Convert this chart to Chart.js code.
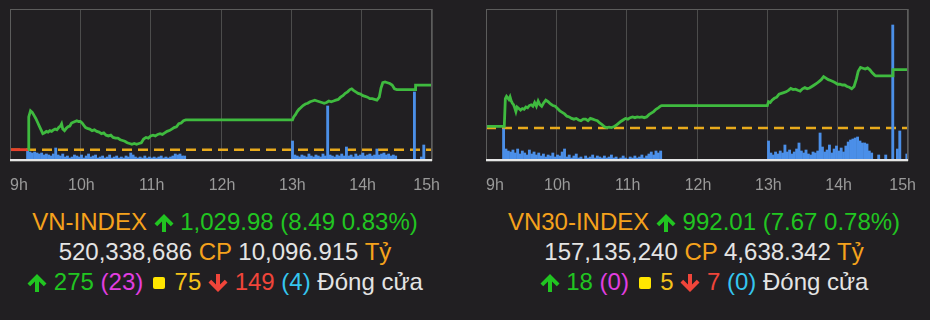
<!DOCTYPE html>
<html><head><meta charset="utf-8">
<script src="https://cdn.jsdelivr.net/npm/chart.js@4/dist/chart.umd.min.js"></script>
<style>
html,body{margin:0;padding:0;background:#211f22;width:930px;height:320px;overflow:hidden;}
canvas{position:absolute;top:0;}
.info{position:absolute;top:207px;width:450px;text-align:center;font-family:"Liberation Sans",Arial,sans-serif;font-size:24px;line-height:30px;color:#e4e4e4;white-space:nowrap;}
.o{color:#f5a21c}.g{color:#21c521}.m{color:#e23ee0}.y{color:#f6c21a}.r{color:#f0453a}.c{color:#35c6ef}
.sq{display:inline-block;width:12px;height:12px;background:#ffe500;border-radius:2px;vertical-align:1px;margin:0 3px;}
svg.ar{width:20px;height:18px;vertical-align:-2px;}
</style></head><body>
<canvas id="c1" width="465" height="200" style="left:0"></canvas>
<canvas id="c2" width="465" height="200" style="left:465px"></canvas>

<div class="info" style="left:0">
<div><span class="o">VN-INDEX</span> <svg class="ar" viewBox="0 0 20 18"><path d="M10 0 L19.5 9.5 L16.8 12.2 L12 7.4 L12 18 L8 18 L8 7.4 L3.2 12.2 L0.5 9.5 Z" fill="#21c521"/></svg> <span class="g">1,029.98 (8.49 0.83%)</span></div>
<div>520,338,686 <span class="o">CP</span> 10,096.915 <span class="o">Tỷ</span></div>
<div><svg class="ar" viewBox="0 0 20 18"><path d="M10 0 L19.5 9.5 L16.8 12.2 L12 7.4 L12 18 L8 18 L8 7.4 L3.2 12.2 L0.5 9.5 Z" fill="#21c521"/></svg> <span class="g">275</span> <span class="m">(23)</span> <span class="sq"></span> <span class="y">75</span> <svg class="ar" viewBox="0 0 20 18"><path d="M10 18 L19.5 8.5 L16.8 5.8 L12 10.6 L12 0 L8 0 L8 10.6 L3.2 5.8 L0.5 8.5 Z" fill="#f0453a"/></svg> <span class="r">149</span> <span class="c">(4)</span> Đóng cửa</div>
</div>

<div class="info" style="left:479px">
<div><span class="o">VN30-INDEX</span> <svg class="ar" viewBox="0 0 20 18"><path d="M10 0 L19.5 9.5 L16.8 12.2 L12 7.4 L12 18 L8 18 L8 7.4 L3.2 12.2 L0.5 9.5 Z" fill="#21c521"/></svg> <span class="g">992.01 (7.67 0.78%)</span></div>
<div>157,135,240 <span class="o">CP</span> 4,638.342 <span class="o">Tỷ</span></div>
<div><svg class="ar" viewBox="0 0 20 18"><path d="M10 0 L19.5 9.5 L16.8 12.2 L12 7.4 L12 18 L8 18 L8 7.4 L3.2 12.2 L0.5 9.5 Z" fill="#21c521"/></svg> <span class="g">18</span> <span class="m">(0)</span> <span class="sq"></span> <span class="y">5</span> <svg class="ar" viewBox="0 0 20 18"><path d="M10 18 L19.5 8.5 L16.8 5.8 L12 10.6 L12 0 L8 0 L8 10.6 L3.2 5.8 L0.5 8.5 Z" fill="#f0453a"/></svg> <span class="r">7</span> <span class="c">(0)</span> Đóng cửa</div>
</div>

<script>
// ---- x axis (minutes after 9:00) ----
const hourTicks = [0, 60, 120, 180, 240, 300, 360];
const hourLabels = ['9h', '10h', '11h', '12h', '13h', '14h', '15h'];

// ---- VN-INDEX ----
const vnRef = 1021.49;
const vnPreT = [0, 15.6];
const vnPreV = [1021.49, 1021.49];
const vnT = [
  15.6, 16, 17.5, 19, 20.5, 22, 23.5, 25, 26.5, 28,
  29.5, 31, 32.5, 34, 35.5, 37, 38.5, 40, 41.5, 43,
  44, 45, 46.5, 48, 49.5, 51, 52.5, 54, 55.5, 57,
  58.5, 60, 61.5, 63, 64.5, 66, 68, 70, 72, 74,
  76, 78, 80, 82, 84, 86, 88, 90, 92, 94,
  96, 98, 100, 102, 104, 106, 108, 110, 112, 114,
  116, 118, 120, 122, 124, 126, 128, 130, 132, 134,
  136, 138, 140, 142, 144, 146, 148, 150, 241, 242,
  243.5, 245, 246.5, 248, 250, 252, 254, 256, 258, 260,
  262, 264, 266, 268, 270, 272, 274, 276, 278, 280,
  282, 284, 286, 288, 290, 291.5, 293, 295, 297, 299,
  301, 303, 305, 307, 309, 311, 313, 315, 316.5, 318,
  320, 322, 324, 326, 328, 330, 331.5, 345.5, 346, 360
];
const vnV = [
  1021.49, 1025.8, 1026.6, 1026.4, 1026.0, 1025.6, 1025.1, 1024.6, 1024.1, 1023.6,
  1023.7, 1023.9, 1023.8, 1024.0, 1023.9, 1024.1, 1024.2, 1024.1, 1024.4, 1024.6,
  1024.9, 1024.2, 1024.0, 1024.3, 1024.5, 1024.6, 1025.0, 1025.1, 1025.2, 1025.3,
  1025.2, 1025.2, 1025.0, 1024.7, 1024.4, 1024.3, 1024.2, 1024.0, 1024.1, 1023.9,
  1023.8, 1023.6, 1023.7, 1023.4, 1023.3, 1023.4, 1023.1, 1023.0, 1023.0, 1022.8,
  1022.7, 1022.6, 1022.4, 1022.3, 1022.2, 1022.3, 1022.2, 1022.3, 1022.4, 1022.9,
  1023.1, 1023.0, 1023.3, 1023.4, 1023.3, 1023.5, 1023.6, 1023.5, 1023.7, 1023.9,
  1024.0, 1024.2, 1024.4, 1024.5, 1024.9, 1025.0, 1025.3, 1025.4, 1025.4, 1025.8,
  1026.1, 1026.5, 1026.8, 1027.0, 1027.3, 1027.5, 1027.6, 1027.8, 1027.9, 1028.0,
  1027.9, 1027.8, 1027.7, 1027.6, 1027.7, 1027.9, 1027.8, 1027.9, 1028.0, 1028.1,
  1028.4, 1028.6, 1028.9, 1029.1, 1029.4, 1029.5, 1029.3, 1029.1, 1028.9, 1028.8,
  1028.6, 1028.5, 1028.4, 1028.2, 1028.2, 1028.1, 1028.0, 1028.4, 1029.6, 1030.3,
  1030.4, 1030.3, 1030.2, 1030.0, 1029.5, 1029.4, 1029.4, 1029.4, 1029.98, 1029.98
];
// volume (relative units), 2-minute slots 9:15-11:29 and 13:01-14:29
const vnVolAM = [
  10, 9, 8, 9, 8, 7, 8, 6, 7, 6,
  5, 7, 13, 6, 5, 7, 4, 5, 3, 4,
  6, 5, 4, 6, 3, 5, 7, 4, 5, 6,
  3, 4, 5, 3, 4, 6, 3, 4, 5, 3,
  4, 3, 5, 4, 8, 6, 4, 3, 4, 3,
  5, 3, 4, 3, 4, 3, 4, 5, 3, 4,
  3, 4, 5, 7, 6, 7, 5, 5
];
const vnVolPM = [
  20, 6, 5, 4, 6, 5, 4, 7, 5, 4,
  6, 5, 4, 7, 5, 55, 6, 5, 4, 6,
  5, 7, 5, 14, 5, 6, 4, 7, 5, 6,
  8, 5, 6, 7, 5, 6, 12, 6, 7, 8,
  6, 7, 5, 6, 5
];
const vnVolXT = [345, 351, 353];
const vnVolXV = [69, 4, 16];

// ---- VN30-INDEX ----
const v30Ref = 984.34;
const v30T = [
  0, 15.6, 16.5, 17.5, 18.5, 19.5, 20.5, 21.5, 22.5, 23.5,
  24.5, 25.5, 26.5, 28, 29.5, 31, 32.5, 34, 35.5, 37,
  38.5, 40, 41.5, 43, 44.5, 46, 47.5, 49, 51, 53,
  55, 57, 59, 61, 63, 65, 67, 69, 71, 73,
  75, 77, 79, 81, 83, 85, 87, 89, 91, 93,
  95, 97, 99, 101, 103, 105, 107, 109, 111, 113,
  115, 117, 119, 121, 123, 125, 127, 129, 131, 133,
  135, 137, 139, 141, 143, 145, 147, 149, 150, 240,
  241, 242.5, 244, 246, 248, 250, 252, 254, 256, 258,
  260, 262, 264, 266, 268, 270, 272, 274, 276, 278,
  280, 282, 284, 286, 288, 290, 292, 294, 296, 298,
  300, 302, 304, 306, 308, 310, 312, 314, 316, 317.5,
  319.5, 321.5, 323.5, 325.5, 327.5, 329.5, 331.5, 332.5, 346.8, 347.2,
  360
];
const v30V = [
  984.55, 984.55, 988.2, 988.5, 988.3, 988.1, 988.45, 987.9, 987.6, 987.4,
  987.0, 986.5, 987.1, 986.9, 986.7, 986.9, 986.8, 987.1, 987.0, 987.3,
  987.4, 987.2, 987.7, 987.2, 987.9, 987.4, 987.2, 987.6, 988.0, 987.8,
  987.5, 987.3, 987.2, 986.9, 986.6, 986.4, 986.2, 985.9, 985.8, 985.6,
  985.5, 985.6, 985.4, 985.3, 985.5, 985.5, 985.3, 985.6, 985.5, 985.4,
  985.3, 985.0, 984.8, 984.5, 984.4, 984.45, 984.4, 984.5, 984.7, 984.95,
  985.2, 985.4, 985.6, 985.5, 985.7, 985.8, 985.7, 985.8, 985.75, 985.8,
  985.7, 985.8, 986.1, 986.3, 986.5, 986.8, 987.0, 987.24, 987.28, 987.28,
  987.8, 987.7, 988.0, 988.25, 988.4, 988.8, 988.9, 989.0, 989.1, 989.3,
  989.55, 989.4, 989.45, 989.3, 989.2, 989.5, 989.65, 989.5, 989.6, 989.8,
  990.0, 990.2, 990.45, 990.7, 991.1, 990.9, 990.7, 990.6, 990.45, 990.3,
  990.1, 990.1, 990.0, 990.0, 989.8, 989.7, 989.5, 989.8, 990.8, 991.8,
  992.3, 992.2, 992.1, 992.25, 992.0, 991.6, 991.3, 991.2, 991.2, 992.01,
  992.01
];
const v30VolAM = [
  32, 12, 10, 9, 11, 8, 12, 7, 10, 8,
  6, 11, 7, 9, 6, 8, 5, 7, 4, 6,
  5, 8, 4, 6, 5, 9, 12, 4, 6, 3,
  5, 7, 3, 4, 2, 5, 3, 4, 6, 3,
  5, 4, 3, 5, 3, 4, 6, 3, 4, 2,
  3, 5, 3, 2, 4, 3, 5, 3, 4, 6,
  3, 5, 7, 9, 6, 10, 8, 10
];
const v30VolPM = [
  20, 8, 6, 9, 7, 10, 8, 16, 9, 11,
  7, 9, 12, 18, 10, 8, 11, 7, 6, 9,
  8, 10, 28, 14, 9, 11, 16, 8, 12, 15,
  10, 13, 9, 15, 19, 21, 22, 23, 24, 20,
  18, 18, 17, 10, 8
];
const v30VolXT = [335, 341, 347, 351, 353, 359];
const v30VolXV = [6, 6, 136, 12, 30, 7];

// ---- helpers ----
const slots = (a, b) => { const r = []; for (let t = a; t <= b; t += 2) r.push(t); return r; };
const pts = (ts, vs) => ts.map((t, i) => ({ x: t, y: vs[i] }));
const amSlots = slots(15, 149), pmSlots = slots(241, 329);

const frame = {
  id: 'frame',
  afterDraw(chart) {
    const { ctx, chartArea: a, scales: { x } } = chart;
    ctx.save();
    ctx.strokeStyle = '#5c5c5c'; ctx.lineWidth = 1;
    ctx.strokeRect(a.left + 0.5, a.top + 0.5, a.right - a.left - 1, a.bottom - a.top);
    ctx.strokeStyle = '#e6e6e6'; ctx.lineWidth = 2;
    ctx.beginPath(); ctx.moveTo(a.left, a.bottom - 1); ctx.lineTo(a.right, a.bottom - 1); ctx.stroke();
    ctx.font = '16px "Liberation Sans", Arial, sans-serif';
    ctx.fillStyle = '#9a9a9a'; ctx.textBaseline = 'middle';
    hourTicks.forEach((t, i) => {
      const px = x.getPixelForValue(t);
      if (i === 0) { ctx.textAlign = 'left'; ctx.fillText(hourLabels[i], a.left, 186); }
      else if (i === hourTicks.length - 1) { ctx.textAlign = 'right'; ctx.fillText(hourLabels[i], a.right + 8, 186); }
      else { ctx.textAlign = 'center'; ctx.fillText(hourLabels[i], px + 1, 186); }
    });
    ctx.restore();
  }
};

function makeChart(id, pad, lineT, lineV, ref, yMin, yMax, volT, volV, pre) {
  const ds = [
    { type: 'line', data: pts(lineT, lineV), borderColor: '#3fba3f', borderWidth: 2.8,
      pointRadius: 0, tension: 0, fill: false, yAxisID: 'y', order: 0 },
    { type: 'bar', data: pts(volT, volV), backgroundColor: '#4b8fe8', barThickness: 2.2,
      yAxisID: 'yv', order: 1 },
    { type: 'line', data: [{ x: 0, y: ref }, { x: 360, y: ref }], borderColor: '#e8aa1c',
      borderWidth: 2.4, borderDash: [10, 6], pointRadius: 0, fill: false, yAxisID: 'y', order: 2 }
  ];
  if (pre) ds.push({ type: 'line', data: pts(pre[0], pre[1]), borderColor: '#e8402c', borderWidth: 2.8,
      pointRadius: 0, fill: false, yAxisID: 'y', order: 0 });
  return new Chart(document.getElementById(id), {
    type: 'line',
    data: { datasets: ds },
    options: {
      responsive: false, animation: false, events: [],
      layout: { padding: pad },
      plugins: { legend: { display: false }, tooltip: { enabled: false } },
      scales: {
        x: { type: 'linear', min: 0, max: 360, offset: false,
             ticks: { display: false, stepSize: 60 },
             grid: { color: '#4c4c4c', lineWidth: 1, drawTicks: false, offset: false },
             border: { display: false },
             afterFit(s) { s.height = 0; } },
        y: { display: false, min: yMin, max: yMax },
        yv: { display: false, min: 0, max: 152 }
      }
    },
    plugins: [frame]
  });
}

makeChart('c1', { left: 10, right: 33, top: 9, bottom: 39 }, vnT, vnV, vnRef, 1020, 1040,
  amSlots.concat(pmSlots, vnVolXT), vnVolAM.concat(vnVolPM, vnVolXV), [vnPreT, vnPreV]);
makeChart('c2', { left: 21, right: 22, top: 9, bottom: 39 }, v30T, v30V, v30Ref, 980, 1000,
  amSlots.concat(pmSlots, v30VolXT), v30VolAM.concat(v30VolPM, v30VolXV), null);
</script>
</body></html>
